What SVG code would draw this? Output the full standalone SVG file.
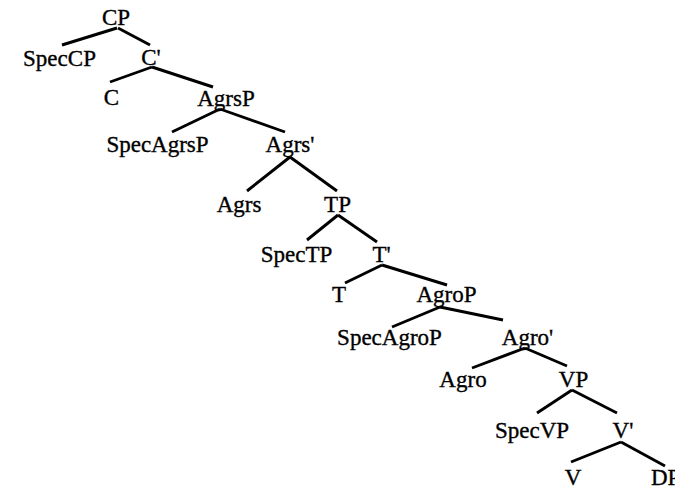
<svg xmlns="http://www.w3.org/2000/svg" width="675" height="490" viewBox="0 0 675 490">
<style>
text { font-family: "Liberation Serif", "Times New Roman", serif; font-size: 23px; fill: #000; stroke: #000; stroke-width: 0.35; text-anchor: middle; }
.edges line { stroke: #000; stroke-width: 2.9; stroke-linecap: butt; }
</style>
<rect width="675" height="490" fill="#fff"/>
<g id="connectors" class="edges">
<line x1="117" y1="28" x2="62" y2="45"/>
<line x1="118" y1="28" x2="150" y2="45"/>
<line x1="152" y1="67" x2="110" y2="82"/>
<line x1="152" y1="67" x2="213" y2="87"/>
<line x1="220" y1="109" x2="172" y2="132"/>
<line x1="220" y1="109" x2="285" y2="132"/>
<line x1="290" y1="157" x2="247" y2="191"/>
<line x1="290" y1="157" x2="337" y2="191"/>
<line x1="338" y1="215" x2="307" y2="240"/>
<line x1="338" y1="215" x2="377" y2="242"/>
<line x1="382" y1="265" x2="345" y2="283"/>
<line x1="382" y1="265" x2="447" y2="285"/>
<line x1="440" y1="307" x2="392" y2="327"/>
<line x1="440" y1="307" x2="503" y2="320"/>
<line x1="525" y1="348" x2="472" y2="368"/>
<line x1="525" y1="348" x2="567" y2="366"/>
<line x1="572" y1="390" x2="537" y2="413"/>
<line x1="572" y1="390" x2="617" y2="413"/>
<line x1="621" y1="442" x2="571" y2="462"/>
<line x1="621" y1="442" x2="665" y2="466"/>
</g>
<g id="CP"><text x="116" y="25">CP</text></g>
<g id="SpecCP"><text x="59.5" y="66">SpecCP</text></g>
<g id="Cbar"><text x="151" y="65">C'</text></g>
<g id="C"><text x="111.5" y="105">C</text></g>
<g id="AgrsP"><text x="226" y="106">AgrsP</text></g>
<g id="SpecAgrsP"><text x="157.5" y="152">SpecAgrsP</text></g>
<g id="Agrsbar"><text x="290" y="152">Agrs'</text></g>
<g id="Agrs"><text x="239" y="212">Agrs</text></g>
<g id="TP"><text x="337.5" y="212">TP</text></g>
<g id="SpecTP"><text x="296.5" y="262">SpecTP</text></g>
<g id="Tbar"><text x="381.5" y="262">T'</text></g>
<g id="T"><text x="339" y="302">T</text></g>
<g id="AgroP"><text x="446.5" y="302">AgroP</text></g>
<g id="SpecAgroP"><text x="389.5" y="345">SpecAgroP</text></g>
<g id="Agrobar"><text x="527.5" y="345">Agro'</text></g>
<g id="Agro"><text x="463" y="387">Agro</text></g>
<g id="VP"><text x="573.5" y="387">VP</text></g>
<g id="SpecVP"><text x="532" y="438">SpecVP</text></g>
<g id="Vbar"><text x="623" y="438">V'</text></g>
<g id="V"><text x="573" y="485">V</text></g>
<g id="DP"><text x="651" y="485" style="text-anchor:start">DP</text></g>
</svg>
